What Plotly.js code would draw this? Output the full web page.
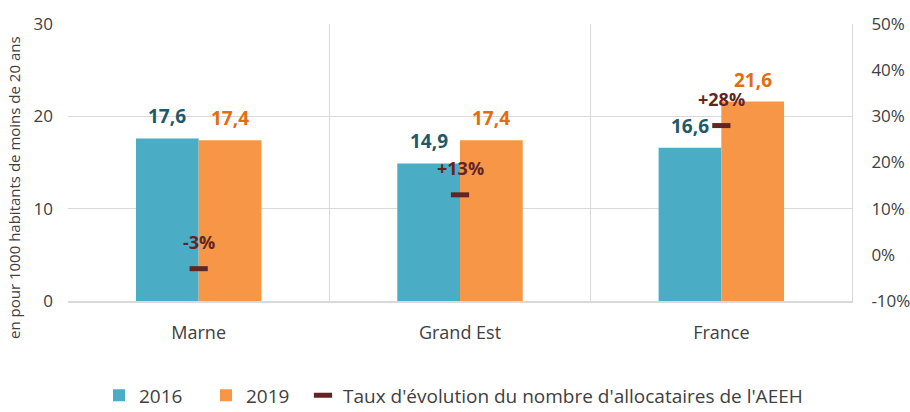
<!DOCTYPE html>
<html><head><meta charset="utf-8">
<script src="https://cdn.plot.ly/plotly-3.0.1.min.js"></script>
<style>html,body{margin:0;padding:0;background:#fff}#c{width:910px;height:412px}</style>
</head><body><div id="c"></div>
<script>
const categories = ["Marne", "Grand Est", "France"];
const v2016 = [17.6, 14.9, 16.6];
const v2019 = [17.4, 17.4, 21.6];
const taux = [-0.03, 0.13, 0.28];
const seriesNames = ["2016", "2019", "Taux d'évolution du nombre d'allocataires de l'AEEH"];
const rightTickVals = [-0.1, 0, 0.1, 0.2, 0.3, 0.4, 0.5];
const rightTickText = ["-10%", "0%", "10%", "20%", "30%", "40%", "50%"];

const FONT = "Open Sans, sans-serif";
const fmt = v => v.toFixed(1).replace('.', ',');
const pct = v => (v > 0 ? '+' : '') + Math.round(v * 100) + '%';

const traces = [
  {type: 'bar', name: seriesNames[0], x: categories, y: v2016, legend: 'legend',
   marker: {color: '#4BACC6', line: {width: 0}}, hoverinfo: 'none'},
  {type: 'bar', name: seriesNames[1], x: categories, y: v2019, legend: 'legend2',
   marker: {color: '#F79646', line: {width: 0}}, hoverinfo: 'none'},
  {type: 'scatter', mode: 'markers', name: seriesNames[2], x: categories, y: taux, yaxis: 'y2', legend: 'legend3',
   marker: {symbol: 'line-ew', size: 13, color: '#632523', line: {width: 5, color: '#632523'}},
   hoverinfo: 'none'}
];

const plotW = 910 - 68 - 58;
const plotH = 412 - 24 - 111;
const barHalf = plotW / 3 * 0.48 / 4;
const annotations = [];
categories.forEach((c, i) => {
  annotations.push({x: c, y: v2016[i], xref: 'x', yref: 'y', text: fmt(v2016[i]), showarrow: false,
    xshift: -barHalf, yshift: 22, font: {family: FONT, size: 19, color: '#215968', weight: 'bold'}});
  annotations.push({x: c, y: v2019[i], xref: 'x', yref: 'y', text: fmt(v2019[i]), showarrow: false,
    xshift: barHalf, yshift: 22, font: {family: FONT, size: 19, color: '#E46C0A', weight: 'bold'}});
  annotations.push({x: c, y: taux[i], xref: 'x', yref: 'y2', text: pct(taux[i]), showarrow: false,
    yshift: 27, font: {family: FONT, size: 18, color: '#632523', weight: 'bold'}});
});
annotations.push({xref: 'paper', yref: 'paper', x: -54 / plotW, y: (301 - 188) / plotH, xanchor: 'center', yanchor: 'middle',
  textangle: -90, showarrow: false, text: 'en pour 1000 habitants de moins de 20 ans',
  font: {family: FONT, size: 15, color: '#404040'}});

const legBase = {orientation: 'h', xref: 'container', xanchor: 'left', yref: 'container', yanchor: 'middle',
  y: 0.04, font: {family: FONT, size: 19, color: '#404040'}, bgcolor: 'rgba(0,0,0,0)'};

const layout = {
  width: 910, height: 412,
  margin: {l: 68, r: 58, t: 24, b: 111},
  paper_bgcolor: '#fff', plot_bgcolor: '#fff',
  font: {family: FONT, color: '#404040', size: 17},
  barmode: 'group', bargap: 0.52, bargroupgap: 0,
  showlegend: true,
  legend: Object.assign({}, legBase, {x: 99 / 910}),
  legend2: Object.assign({}, legBase, {x: 206 / 910}),
  legend3: Object.assign({}, legBase, {x: 303 / 910}),
  xaxis: {type: 'category', tickson: 'boundaries', showgrid: true, gridcolor: '#D9D9D9', gridwidth: 1,
    ticks: '', showline: true, linecolor: '#D9D9D9', linewidth: 2, mirror: false, automargin: false,
    tickfont: {family: FONT, size: 18, color: '#404040'}, ticklabelstandoff: 14, fixedrange: true},
  yaxis: {range: [0, 30], dtick: 10, showgrid: true, gridcolor: '#D9D9D9', zeroline: false, automargin: false,
    showline: false, ticks: '', tickfont: {family: FONT, size: 17, color: '#404040'}, ticklabelstandoff: 14},
  yaxis2: {overlaying: 'y', side: 'right', range: [-0.1, 0.5], tickvals: rightTickVals, ticktext: rightTickText,
    automargin: false, showgrid: false, zeroline: false, showline: true, linecolor: '#D9D9D9', ticks: '',
    tickfont: {family: FONT, size: 17, color: '#404040'}, ticklabelstandoff: 15},
  annotations: annotations
};

Plotly.newPlot('c', traces, layout, {displayModeBar: false, staticPlot: true});
</script>
</body></html>
